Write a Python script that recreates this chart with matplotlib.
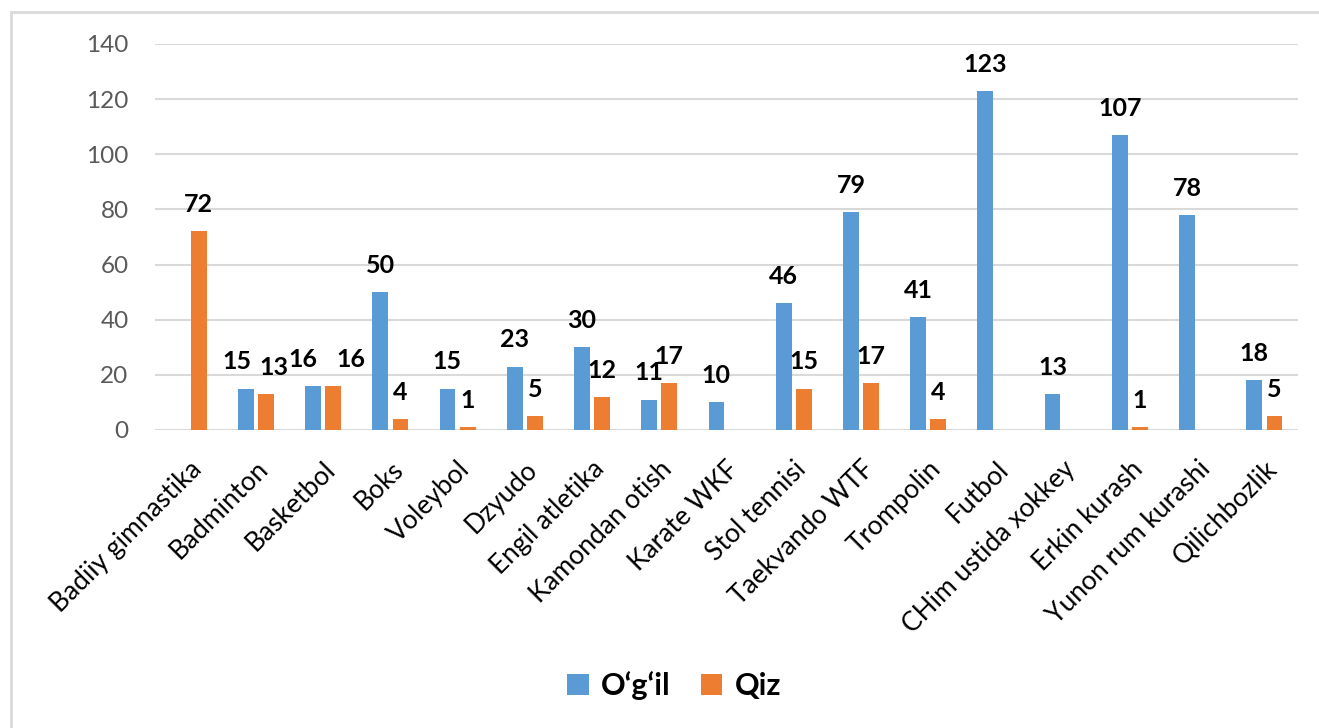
import matplotlib.pyplot as plt
import matplotlib.patches as patches
import numpy as np

plt.rcParams['font.family'] = ['Lato', 'DejaVu Sans']

# Sport turlari
sports = ["Badiiy gimnastika", "Badminton", "Basketbol", "Boks", "Voleybol",
          "Dzyudo", "Engil atletika", "Kamondan otish", "Karate WKF",
          "Stol tennisi", "Taekvando WTF", "Trompolin", "Futbol",
          "CHim ustida xokkey", "Erkin kurash", "Yunon rum kurashi",
          "Qilichbozlik"]

# O'g'il bolalar va qizlar soni (bo'sh katak = nan)
ogil = [np.nan, 15, 16, 50, 15, 23, 30, 11, 10, 46, 79, 41, 123, 13, 107, 78, 18]
qiz = [72, 13, 16, 4, 1, 5, 12, 17, np.nan, 15, 17, 4, np.nan, np.nan, 1, np.nan, 5]

blue = "#5B9BD5"
orange = "#ED7D31"
grid_col = "#D9D9D9"

# yonma-yon yozuvlar ustma-ust tushmasligi uchun surish (pt)
nudge = {(0, 1): -6, (1, 1): 6, (0, 2): -7, (1, 2): 13}

fig = plt.figure(figsize=(13.19, 7.28), dpi=100)
ax = fig.add_axes([155/1319, 1 - 430/728, (1298 - 155)/1319, (430 - 44)/728])

# ramka
fig.patches.append(patches.Rectangle((11/1319, -0.05), 1.2, 1 - 12/728 + 0.05,
                                     transform=fig.transFigure, fill=False,
                                     edgecolor=grid_col, linewidth=2))

x = np.arange(len(sports))
w = 0.235
off = 0.15

b1 = ax.bar(x - off, ogil, w, color=blue, label="O\u2018g\u2018il", zorder=3)
b2 = ax.bar(x + off, qiz, w, color=orange, label="Qiz", zorder=3)

# qiymatlarni ustunlar ustiga yozish
for k, (bars, vals) in enumerate(((b1, ogil), (b2, qiz))):
    for i, (bar, v) in enumerate(zip(bars, vals)):
        if np.isnan(v):
            continue
        ax.annotate(str(int(v)), (bar.get_x() + bar.get_width() / 2, v),
                    xytext=(nudge.get((k, i), 0), 11), textcoords="offset points",
                    ha="center", va="bottom", fontsize=18, fontweight="bold",
                    color="black")

ax.set_xlim(-0.5, len(sports) - 0.5)
ax.set_ylim(0, 140)
ax.set_yticks(range(0, 141, 20))
ax.yaxis.grid(True, color=grid_col, linewidth=1.5, zorder=0)
ax.set_axisbelow(True)
for s in ax.spines.values():
    s.set_visible(False)
ax.axhline(0, color=grid_col, linewidth=2, zorder=2)

ax.set_xticks(x)
ax.set_xticklabels(sports, rotation=45, ha="right", rotation_mode="anchor",
                   fontsize=19)
ax.tick_params(axis="x", length=0, pad=19)
ax.tick_params(axis="y", length=0, pad=19, labelsize=17.5, labelcolor="#595959")

ax.legend(loc="center", bbox_to_anchor=(674/1319, 1 - 686/728),
          bbox_transform=fig.transFigure, ncol=2, frameon=False,
          prop={"size": 22, "weight": "bold"}, handlelength=0.7,
          handleheight=0.7, handletextpad=0.4, columnspacing=1.0)

fig.savefig("out.png", dpi=100)
